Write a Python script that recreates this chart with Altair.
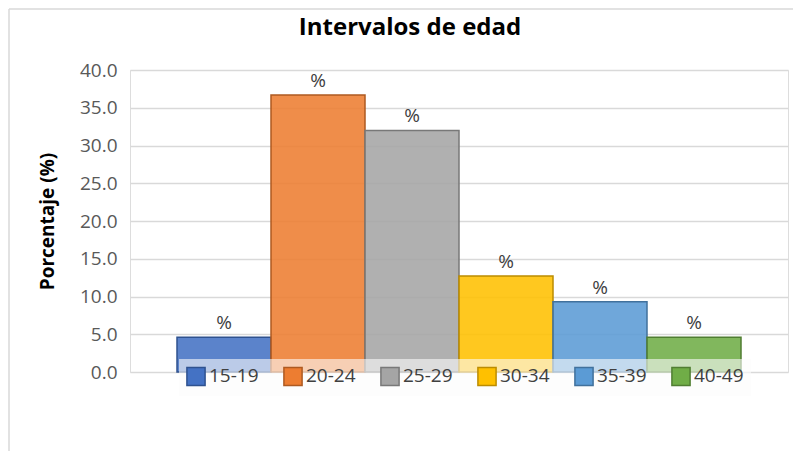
import altair as alt
import pandas as pd

categories = ["15-19", "20-24", "25-29", "30-34", "35-39", "40-49"]
values = [4.6, 36.7, 32.0, 12.7, 9.3, 4.6]
labels = ["%", "%", "%", "%", "%", "%"]
fill_colors = ["#4472C4", "#ED7D31", "#A5A5A5", "#FFC000", "#5B9BD5", "#70AD47"]
stroke_colors = ["#2F528F", "#AE5A21", "#787878", "#BC8C00", "#41719C", "#507E32"]
y_ticks = [0, 5, 10, 15, 20, 25, 30, 35, 40]
title_text = ["Intervalos de edad"]

df = pd.DataFrame({"Intervalo": categories, "Porcentaje": values, "Etiqueta": labels})

FONT = "Open Sans"

x_enc = alt.X("Intervalo:N", sort=categories,
              scale=alt.Scale(paddingInner=0, paddingOuter=0.5),
              axis=None)
y_enc = alt.Y("Porcentaje:Q",
              scale=alt.Scale(domain=[0, 40], nice=False),
              axis=alt.Axis(values=y_ticks, tickCount=20, format=".1f", title="Porcentaje (%)",
                            domain=False, ticks=False, labelPadding=13, labelOverlap=False,
                            labelFont=FONT, labelFontSize=19, labelColor="#595959",
                            titleFont=FONT, titleFontSize=19, titleFontWeight="bold",
                            titleColor="#000000", titlePadding=22,
                            gridColor="#D9D9D9", gridWidth=1.3))

legend = alt.Legend(title=None, orient="none", legendX=49, legendY=289,
                    direction="horizontal", columns=6, symbolType="square",
                    symbolSize=330, symbolStrokeWidth=1.5, symbolOpacity=1,
                    labelFont=FONT, labelFontSize=19, labelColor="#404040",
                    labelOffset=3, columnPadding=21, padding=7,
                    fillColor="rgba(252,252,252,0.6)")

bars = alt.Chart(df).mark_bar(strokeWidth=1.5, fillOpacity=0.88).encode(
    x=x_enc,
    y=y_enc,
    fill=alt.Fill("Intervalo:N", sort=categories,
                  scale=alt.Scale(domain=categories, range=fill_colors), legend=legend),
    stroke=alt.Stroke("Intervalo:N", sort=categories,
                      scale=alt.Scale(domain=categories, range=stroke_colors), legend=legend),
)

text = alt.Chart(df).mark_text(baseline="bottom", dy=-4, font=FONT, fontSize=19,
                               color="#404040").encode(
    x=x_enc,
    y=y_enc,
    text="Etiqueta:N",
)

title_df = pd.DataFrame({"t": title_text})
title = alt.Chart(title_df).mark_text(font=FONT, fontSize=24, fontWeight="bold",
                                      color="#000000", align="center",
                                      baseline="middle").encode(
    x=alt.value(280), y=alt.value(-42), text="t:N")

border_df = pd.DataFrame({"k": [0]})
left_border = alt.Chart(border_df).mark_rule(color="#D9D9D9", strokeWidth=1.5).encode(
    x=alt.value(-121), y=alt.value(-61), y2=alt.value(400))
top_border = alt.Chart(border_df).mark_rule(color="#D9D9D9", strokeWidth=1.5).encode(
    x=alt.value(-121), x2=alt.value(680), y=alt.value(-61))

chart = alt.layer(left_border, top_border, title, bars, text).properties(
    width=658, height=302,
    autosize=alt.AutoSizeParams(type="none"),
    padding={"left": 122, "top": 62, "right": 5, "bottom": 80},
).configure_view(stroke=None).configure(background="white")

chart.save("out.html", embed_options={"renderer": "svg", "actions": False})
